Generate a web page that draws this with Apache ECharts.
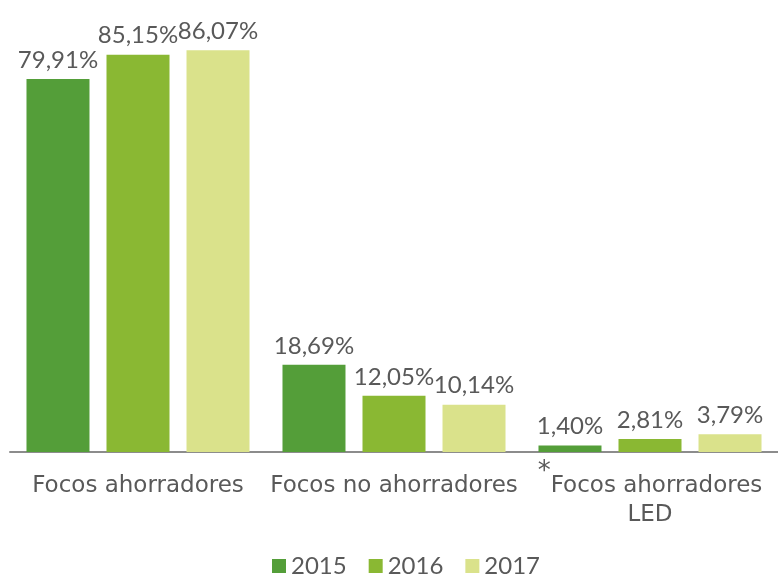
<!DOCTYPE html>
<html>
<head>
<meta charset="utf-8">
<script src="https://cdn.jsdelivr.net/npm/echarts@6/dist/echarts.min.js"></script>
<style>
  html, body { margin: 0; padding: 0; background: #fff; }
  #chart { width: 778px; height: 576px; }
</style>
</head>
<body>
<div id="chart"></div>
<script>
var categories = ['Focos ahorradores', 'Focos no ahorradores', 'Focos ahorradores\nLED'];
var years = ['2015', '2016', '2017'];
var values2015 = [79.91, 18.69, 1.40];
var values2016 = [85.15, 12.05, 2.81];
var values2017 = [86.07, 10.14, 3.79];
var colors = ['#549E39', '#8AB833', '#DAE28B'];

var fontName = 'Lato';
var wideFont = 'DejaVu Sans';
var textColor = '#595959';

function pctLabel(p) {
    return p.value.toFixed(2).replace('.', ',') + '%';
}

function makeSeries(name, data, color) {
    return {
        name: name,
        type: 'bar',
        data: data,
        barWidth: 63,
        barGap: '27%',
        itemStyle: { color: color },
        label: {
            show: true,
            position: 'top',
            distance: 7,
            formatter: pctLabel,
            color: textColor,
            fontFamily: fontName,
            fontSize: 24
        }
    };
}

var chart = echarts.init(document.getElementById('chart'));
var option = {
    animation: false,
    grid: { left: 10, top: 32, width: 774, height: 420, containLabel: false },
    legend: {
        bottom: -2,
        left: 272,
        padding: 0,
        itemWidth: 14,
        itemHeight: 14,
        itemGap: 22,
        icon: 'rect',
        textStyle: { color: textColor, fontFamily: fontName, fontSize: 24 },
        data: years
    },
    xAxis: {
        type: 'category',
        data: categories,
        axisTick: { show: false },
        axisLine: { lineStyle: { color: '#8c8c8c', width: 2 } },
        axisLabel: {
            color: textColor,
            fontFamily: wideFont,
            fontSize: 23,
            margin: 20,
            lineHeight: 29,
            interval: 0,
            formatter: function (v, i) {
                if (i === 2) {
                    return '{s|*}' + v;
                }
                return v;
            },
            rich: {
                s: { fontSize: 26, color: textColor, verticalAlign: 'bottom', padding: [0, 0, 16, 0] }
            }
        }
    },
    yAxis: {
        type: 'value',
        min: 0,
        max: 90,
        show: false,
        splitLine: { show: false }
    },
    series: [
        makeSeries(years[0], values2015, colors[0]),
        makeSeries(years[1], values2016, colors[1]),
        makeSeries(years[2], values2017, colors[2])
    ]
};
chart.setOption(option);
</script>
</body>
</html>
